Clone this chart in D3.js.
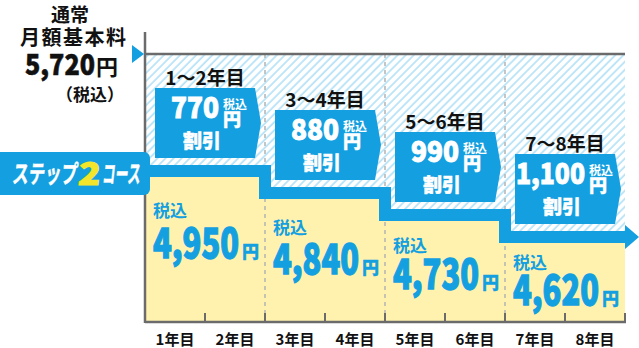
<!DOCTYPE html>
<html><head><meta charset="utf-8">
<script src="https://cdn.jsdelivr.net/npm/d3@7"></script>
<style>body{margin:0;background:#fff}svg{display:block}text{font-family:"Noto Sans CJK JP","Noto Sans",sans-serif}</style>
</head><body><svg id="c" width="639" height="348"></svg>
<script>
const years = ["1年目","2年目","3年目","4年目","5年目","6年目","7年目","8年目"];
const periods = ["1〜2年目","3〜4年目","5〜6年目","7〜8年目"];
const discounts = [770, 880, 990, 1100];
const prices = [4950, 4840, 4730, 4620];
const basePrice = 5720;
const baseLines = ["通常","月額基本料"];
const courseName = ["ステップ","2","コース"];

const BLUE = "#149fe0", YEL = "#fff2ae", GRAY = "#6b6b6b";
const svg = d3.select("#c");
const fmt = d3.format(",");
const left = 145, right = 625, bottom = 322;
const x = d3.scaleLinear().domain([0, years.length]).range([left, right]);
const y = d3.scaleLinear().domain([4225, 4620, 4950, basePrice]).range([bottom, 243, 177, 54]);

const defs = svg.append("defs");
const pat = defs.append("pattern").attr("id","hatch").attr("patternUnits","userSpaceOnUse")
  .attr("width",5.7).attr("height",5.7).attr("patternTransform","rotate(45)");
pat.append("rect").attr("width",5.7).attr("height",5.7).attr("fill","#fff");
pat.append("line").attr("x1",1).attr("x2",1).attr("y1",0).attr("y2",5.7).attr("stroke","#9fd9f5").attr("stroke-width",1.3);

svg.append("rect").attr("x",x(0)).attr("y",y(basePrice)).attr("width",x(8)-x(0)).attr("height",bottom-y(basePrice)).attr("fill","url(#hatch)");

svg.selectAll("rect.yel").data(prices).join("rect").attr("class","yel")
  .attr("x",(d,i)=>x(2*i)).attr("y",d=>y(d)).attr("width",(d,i)=>x(2*i+2)-x(2*i)).attr("height",d=>bottom-y(d)).attr("fill",YEL);

svg.selectAll("line.dash").data([2,4,6]).join("line").attr("class","dash")
  .attr("x1",d=>x(d)).attr("x2",d=>x(d)).attr("y1",y(basePrice)).attr("y2",bottom)
  .attr("stroke","#b4b4b4").attr("stroke-width",1.5).attr("stroke-dasharray","4,4");

const bw = 12;
let p = `M${x(0)},${y(prices[0])-bw/2}`;
prices.forEach((v,i)=>{ if(i>0) p += `V${y(v)-bw/2}`; p += `H${i<prices.length-1 ? x(2*i+2) : x(8)+2}`; });
svg.append("path").attr("d",p).attr("fill","none").attr("stroke",BLUE).attr("stroke-width",bw).attr("stroke-linejoin","miter");
const ay = y(prices[3]) - bw/2;
svg.append("path").attr("d",`M${x(8)},${ay-12}L${x(8)+14},${ay}L${x(8)},${ay+12}Z`).attr("fill",BLUE);

svg.append("line").attr("x1",x(0)).attr("x2",x(8)).attr("y1",y(basePrice)).attr("y2",y(basePrice)).attr("stroke",GRAY).attr("stroke-width",2.5);
svg.append("line").attr("x1",x(0)).attr("x2",x(0)).attr("y1",32).attr("y2",bottom+1).attr("stroke",GRAY).attr("stroke-width",2.5);
svg.append("line").attr("x1",x(0)).attr("x2",x(8)+1).attr("y1",bottom).attr("y2",bottom).attr("stroke",GRAY).attr("stroke-width",2.5);
svg.selectAll("line.tick").data(d3.range(1,9)).join("line").attr("class","tick")
  .attr("x1",d=>x(d)).attr("x2",d=>x(d)).attr("y1",bottom-9).attr("y2",bottom).attr("stroke",GRAY).attr("stroke-width",2);
svg.append("path").attr("d",`M132,${y(basePrice)-9}L144,${y(basePrice)}L132,${y(basePrice)+9}Z`).attr("fill",BLUE);

svg.selectAll("text.yr").data(years).join("text").attr("class","yr")
  .attr("x",(d,i)=>x(i+0.5)).attr("y",345).attr("text-anchor","middle")
  .attr("font-size",15).attr("font-weight","bold").attr("fill","#111").text(d=>d);

svg.append("text").attr("x",70).attr("y",22).attr("text-anchor","middle").attr("font-size",19).attr("font-weight","bold").attr("fill","#111").text(baseLines[0]);
svg.append("text").attr("x",73).attr("y",45).attr("text-anchor","middle").attr("font-size",20).attr("font-weight","bold").attr("fill","#111")
  .attr("textLength",106).attr("lengthAdjust","spacing").text(baseLines[1]);
svg.append("text").attr("x",25).attr("y",75).attr("font-size",28).attr("font-weight","900").attr("fill","#111")
  .attr("stroke","#111").attr("stroke-width",0.6)
  .attr("textLength",70).attr("lengthAdjust","spacingAndGlyphs").text(fmt(basePrice));
svg.append("text").attr("x",96).attr("y",75).attr("font-size",22).attr("font-weight","bold").attr("fill","#111").text("円");
svg.append("text").attr("x",90).attr("y",101).attr("text-anchor","middle").attr("font-size",17).attr("font-weight","bold").attr("fill","#111").text("（税込）");

const cg = svg.append("g");
cg.append("rect").attr("x",-6).attr("y",152).attr("width",156).attr("height",43).attr("rx",6).attr("fill",BLUE);
cg.append("text").attr("x",12).attr("y",183).attr("font-size",25).attr("font-weight","bold").attr("fill","#fff")
  .attr("stroke","#fff").attr("stroke-width",0.5)
  .attr("textLength",65).attr("lengthAdjust","spacingAndGlyphs").attr("transform","skewX(-6) translate(19,0)").text(courseName[0]);
cg.append("text").attr("x",78).attr("y",185).attr("font-size",31).attr("font-weight","900")
  .attr("fill","#f3e52c").attr("stroke","#f3e52c").attr("stroke-width",1.2).attr("textLength",22).attr("lengthAdjust","spacingAndGlyphs")
  .attr("transform","skewX(-6) translate(19,0)").text(courseName[1]);
cg.append("text").attr("x",102).attr("y",183).attr("font-size",25).attr("font-weight","bold").attr("fill","#fff")
  .attr("stroke","#fff").attr("stroke-width",0.5)
  .attr("textLength",38).attr("lengthAdjust","spacingAndGlyphs").attr("transform","skewX(-6) translate(19,0)").text(courseName[2]);

periods.forEach((lab,i)=>{
  const cx = x(2*i+1), v = prices[i];
  const top = y(v)-89, bot = y(v)-19, mid = (top+bot)/2;
  const x0 = cx-50, tip = cx+56, x1 = tip-6;
  const g = svg.append("g");
  g.append("text").attr("x",cx).attr("y",top-3).attr("text-anchor","middle").attr("font-size",19).attr("font-weight","bold").attr("fill","#111").text(lab);
  g.append("path").attr("d",`M${x0},${top}H${x1}L${tip},${mid}L${x1},${bot}H${x0}Z`).attr("fill",BLUE);
  const s = fmt(discounts[i]);
  const nd = s.replace(/,/g,"").length, nc = s.length-nd;
  const len = nd*16+nc*5;
  const nr = cx+14+nc*6;
  g.append("text").attr("x",nr-len).attr("y",top+30).attr("font-size",28).attr("font-weight","900").attr("fill","#fff")
    .attr("stroke","#fff").attr("stroke-width",0.9)
    .attr("textLength",len).attr("lengthAdjust","spacingAndGlyphs").text(s);
  g.append("text").attr("x",nr+4).attr("y",top+21).attr("font-size",12).attr("font-weight","bold").attr("fill","#fff").text("税込");
  g.append("text").attr("x",nr+4).attr("y",top+38).attr("font-size",18).attr("font-weight","900").attr("fill","#fff")
    .attr("stroke","#fff").attr("stroke-width",0.5).text("円");
  g.append("text").attr("x",cx-3).attr("y",top+60).attr("text-anchor","middle").attr("font-size",19).attr("font-weight","900").attr("fill","#fff")
    .attr("stroke","#fff").attr("stroke-width",0.5).text("割引");
  const d = y(v)-y(prices[0]);
  const lx = x(2*i)+8;
  g.append("text").attr("x",lx).attr("y",217+d*0.79).attr("font-size",17).attr("font-weight","bold").attr("fill",BLUE).text("税込");
  g.append("text").attr("x",lx).attr("y",258+d*0.71).attr("font-size",41).attr("font-weight","900").attr("fill",BLUE)
    .attr("stroke",BLUE).attr("stroke-width",1.3)
    .attr("textLength",86).attr("lengthAdjust","spacingAndGlyphs").text(fmt(v));
  g.append("text").attr("x",lx+89).attr("y",258+d*0.71).attr("font-size",17).attr("font-weight","900").attr("fill",BLUE)
    .attr("stroke",BLUE).attr("stroke-width",0.4).text("円");
});
</script></body></html>
